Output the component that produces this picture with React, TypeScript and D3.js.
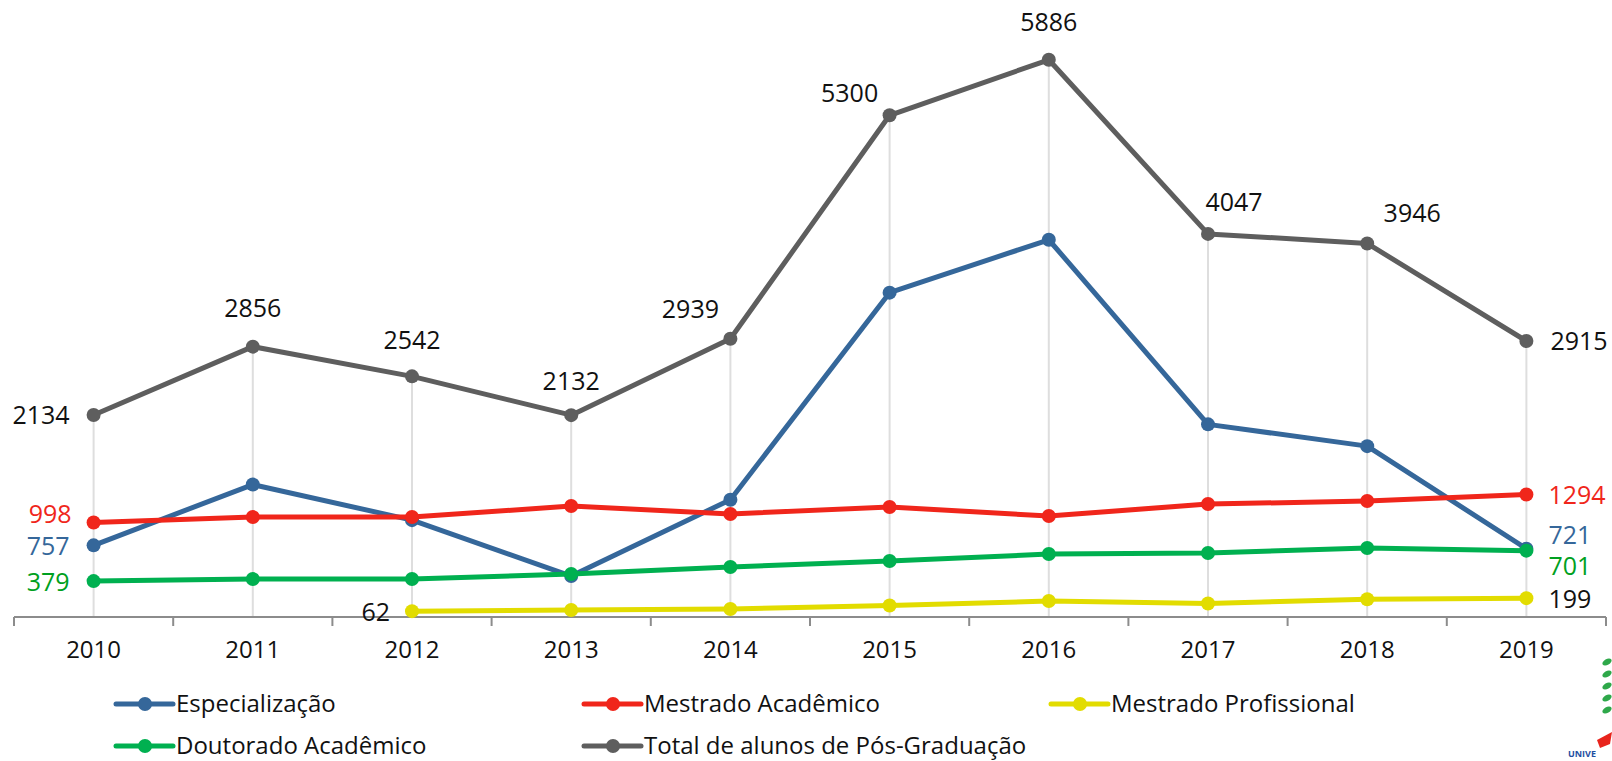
import React from "react";
import * as d3 from "d3";

// chart data
const years = ["2010", "2011", "2012", "2013", "2014", "2015", "2016", "2017", "2018", "2019"];
const especializacao = [757, 1399, 1023, 432, 1239, 3426, 3985, 2035, 1805, 721];
const mestradoAcademico = [998, 1056, 1056, 1172, 1088, 1162, 1067, 1193, 1225, 1294];
const mestradoProfissional = [null, null, 62, 74, 84, 121, 169, 143, 187, 199];
const doutoradoAcademico = [379, 401, 401, 454, 528, 591, 665, 676, 729, 701];
const totalPos = [2134, 2856, 2542, 2132, 2939, 5300, 5886, 4047, 3946, 2915];

const layout = {
    width: 1612,
    height: 761,
    left: 14,
    right: 1606,
    baseline: 617,
    top: 49
};

const FONT = "'Open Sans', 'DejaVu Sans', sans-serif";

const series = [
    { name: "Especialização", values: especializacao, color: "#35679a", label: "#35679a" },
    { name: "Mestrado Acadêmico", values: mestradoAcademico, color: "#f0261b", label: "#f0261b" },
    { name: "Mestrado Profissional", values: mestradoProfissional, color: "#e2dc00", label: "#111" },
    { name: "Doutorado Acadêmico", values: doutoradoAcademico, color: "#00b050", label: "#00a020" },
    { name: "Total de alunos de Pós-Graduação", values: totalPos, color: "#5e5e5e", label: "#111" }
];

// where the total labels sit relative to their point
const totalLabelPos = [
    { dx: -24, dy: 0, anchor: "end" },
    { dx: 0, dy: -38, anchor: "middle" },
    { dx: 0, dy: -36, anchor: "middle" },
    { dx: 0, dy: -34, anchor: "middle" },
    { dx: -40, dy: -30, anchor: "middle" },
    { dx: -40, dy: -22, anchor: "middle" },
    { dx: 0, dy: -38, anchor: "middle" },
    { dx: 26, dy: -32, anchor: "middle" },
    { dx: 45, dy: -30, anchor: "middle" },
    { dx: 24, dy: 0, anchor: "start" }
];

// end labels for the smaller series: [series index, year index, dx, dy, anchor]
const endLabels = [
    [0, 0, -24, 1, "end"],
    [1, 0, -22, -8, "end"],
    [3, 0, -24, 1, "end"],
    [2, 2, -22, 1, "end"],
    [1, 9, 22, 1, "start"],
    [0, 9, 22, -13, "start"],
    [3, 9, 22, 16, "start"],
    [2, 9, 22, 1, "start"]
];

const legendItems = [
    { s: 0, x: 116, y: 704 },
    { s: 1, x: 584, y: 704 },
    { s: 2, x: 1051, y: 704 },
    { s: 3, x: 116, y: 746 },
    { s: 4, x: 584, y: 746 }
];

const App = () => {
    const xScale = d3.scaleBand().domain(years).range([layout.left, layout.right]).paddingInner(0).paddingOuter(0);
    const yScale = d3.scaleLinear().domain([0, 6000]).range([layout.baseline, layout.top]);
    const cx = (i: number) => (xScale(years[i]) as number) + xScale.bandwidth() / 2;

    const line = d3
        .line<any>()
        .defined(d => d.v != null)
        .x(d => cx(d.i))
        .y(d => yScale(d.v));

    const tickXs = years.map(y => xScale(y) as number).concat([layout.right]);

    return (
        <div style={{ position: "absolute", left: 0, top: 0 }}>
            <svg width={layout.width} height={layout.height} style={{ display: "block" }}>
                <rect width={layout.width} height={layout.height} fill="#fff" />
                {/* drop lines */}
                {years.map((y, i) => (
                    <line
                        key={"d" + y}
                        x1={cx(i)}
                        x2={cx(i)}
                        y1={yScale(d3.max(series, s => s.values[i] ?? 0) as number)}
                        y2={layout.baseline}
                        stroke="#dedede"
                        strokeWidth={2}
                    />
                ))}
                {/* axis */}
                <line x1={layout.left} x2={layout.right} y1={layout.baseline} y2={layout.baseline} stroke="#8c8c8c" strokeWidth={2} />
                {tickXs.map((t, i) => (
                    <line key={"t" + i} x1={t} x2={t} y1={layout.baseline} y2={layout.baseline + 9} stroke="#8c8c8c" strokeWidth={2} />
                ))}
                {years.map((y, i) => (
                    <text key={"l" + y} x={cx(i)} y={658} textAnchor="middle" fontFamily={FONT} fontSize={24} fill="#111">
                        {y}
                    </text>
                ))}
                {/* lines and markers */}
                {series.map((s, k) => {
                    const pts = s.values.map((v, i) => ({ v, i }));
                    return (
                        <g key={s.name}>
                            <path d={line(pts) as string} fill="none" stroke={s.color} strokeWidth={5} strokeLinejoin="round" />
                            {pts
                                .filter(p => p.v != null)
                                .map(p => (
                                    <circle key={p.i} cx={cx(p.i)} cy={yScale(p.v as number)} r={7} fill={s.color} />
                                ))}
                        </g>
                    );
                })}
                {/* total labels */}
                {totalPos.map((v, i) => (
                    <text
                        key={"tl" + i}
                        x={cx(i) + totalLabelPos[i].dx}
                        y={yScale(v) + totalLabelPos[i].dy}
                        dy="0.35em"
                        textAnchor={totalLabelPos[i].anchor as any}
                        fontFamily={FONT}
                        fontSize={25}
                        fill="#111"
                    >
                        {v}
                    </text>
                ))}
                {endLabels.map(([si, yi, dx, dy, anchor], n) => {
                    const s = series[si as number];
                    const v = s.values[yi as number] as number;
                    return (
                        <text
                            key={"el" + n}
                            x={cx(yi as number) + (dx as number)}
                            y={yScale(v) + (dy as number)}
                            dy="0.35em"
                            textAnchor={anchor as any}
                            fontFamily={FONT}
                            fontSize={25}
                            fill={s.label}
                        >
                            {v}
                        </text>
                    );
                })}
                {/* legend */}
                {legendItems.map(it => {
                    const s = series[it.s];
                    return (
                        <g key={"lg" + it.s}>
                            <line x1={it.x} x2={it.x + 57} y1={it.y} y2={it.y} stroke={s.color} strokeWidth={5} strokeLinecap="round" />
                            <circle cx={it.x + 29} cy={it.y} r={7} fill={s.color} />
                            <text x={it.x + 60} y={it.y} dy="0.35em" fontFamily={FONT} fontSize={24} fill="#111">
                                {s.name}
                            </text>
                        </g>
                    );
                })}
                {/* partial logo at the edge */}
                <g>
                    {[662, 674, 686, 698, 710].map((y, i) => (
                        <ellipse key={"lf" + i} cx={1607} cy={y} rx={5} ry={3} fill="#2ea84a" transform={`rotate(-30 1607 ${y})`} />
                    ))}
                    <path d="M1597,740 L1612,732 L1610,744 L1600,748 Z" fill="#e8241c" />
                    <text x={1568} y={757} fontFamily={FONT} fontWeight="bold" fontSize={9} fill="#1f4ea1">
                        UNIVE
                    </text>
                </g>
            </svg>
        </div>
    );
};

export default App;
